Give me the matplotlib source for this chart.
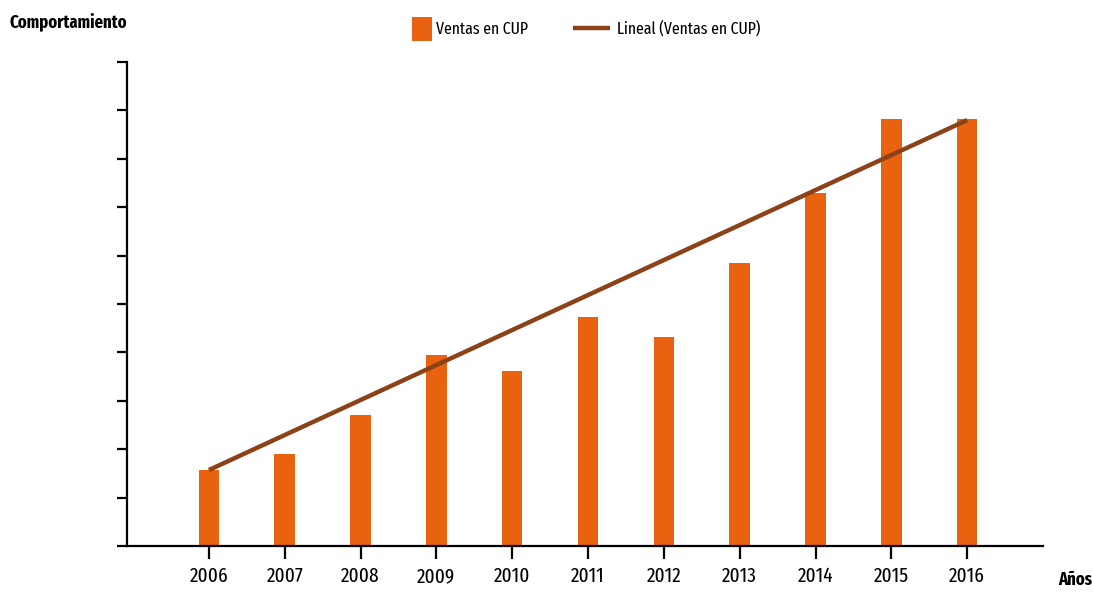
import numpy as np
import matplotlib
matplotlib.use("Agg")
import matplotlib.pyplot as plt
from matplotlib.patches import Rectangle
from matplotlib.lines import Line2D

# Ventas en CUP por año (unidades relativas, el eje no lleva valores)
years = ["2006", "2007", "2008", "2009", "2010", "2011",
         "2012", "2013", "2014", "2015", "2016"]
ventas = [1.57, 1.90, 2.71, 3.95, 3.62, 4.73, 4.32, 5.85, 7.29, 8.82, 8.82]
# tendencia lineal: extremos 2006 -> 2016
trend_years = ["2006", "2016"]
trend_vals = [1.57, 8.80]

BAR = "#E8620F"
LINE = "#8C4218"
FONT = ["Fira Sans Extra Condensed", "DejaVu Sans"]

plt.rcParams["font.family"] = FONT

W, H = 1093, 592
fig = plt.figure(figsize=(W / 100, H / 100), dpi=100)
ax = fig.add_axes([127 / W, 1 - 546 / H, (1043 - 127) / W, (546 - 62) / H])

x = np.arange(len(years))
ax.bar(x, ventas, width=0.27, color=BAR, zorder=2)
tx = [years.index(y) for y in trend_years]
ax.plot(tx, trend_vals, color=LINE, lw=3.2, solid_capstyle="butt", zorder=3)

ax.set_xlim(-1.08, 11.0)
ax.set_ylim(0, 10)
ax.set_xticks(x)
ax.set_xticklabels(years, fontsize=15)
ax.set_yticks(np.arange(0, 11))
ax.set_yticklabels([])
ax.tick_params(axis="y", direction="out", length=7, width=1.6, color="black")
ax.tick_params(axis="x", direction="out", length=9, width=1.6, color="black", pad=6)
for s in ["top", "right"]:
    ax.spines[s].set_visible(False)
for s in ["left", "bottom"]:
    ax.spines[s].set_linewidth(1.6)

fig.text(10 / W, 1 - 22 / H, "Comportamiento", fontsize=13, fontweight="bold",
         ha="left", va="center")
fig.text(1058 / W, 1 - 580 / H, "Años", fontsize=13, fontweight="bold",
         ha="left", va="center")

# leyenda superior: cuadro naranja + línea marrón
fig.patches.append(Rectangle((412 / W, 1 - 41 / H), 20 / W, 24 / H,
                             transform=fig.transFigure, facecolor=BAR,
                             edgecolor="none"))
fig.text(436 / W, 1 - 29 / H, "Ventas en CUP", fontsize=12.3, ha="left", va="center")
fig.lines.append(Line2D([573 / W, 610 / W], [1 - 28 / H, 1 - 28 / H],
                        transform=fig.transFigure, color=LINE, lw=3.2,
                        solid_capstyle="butt"))
fig.text(617 / W, 1 - 29 / H, "Lineal (Ventas en CUP)", fontsize=12.3,
         ha="left", va="center")

fig.savefig("out.png", dpi=100)
